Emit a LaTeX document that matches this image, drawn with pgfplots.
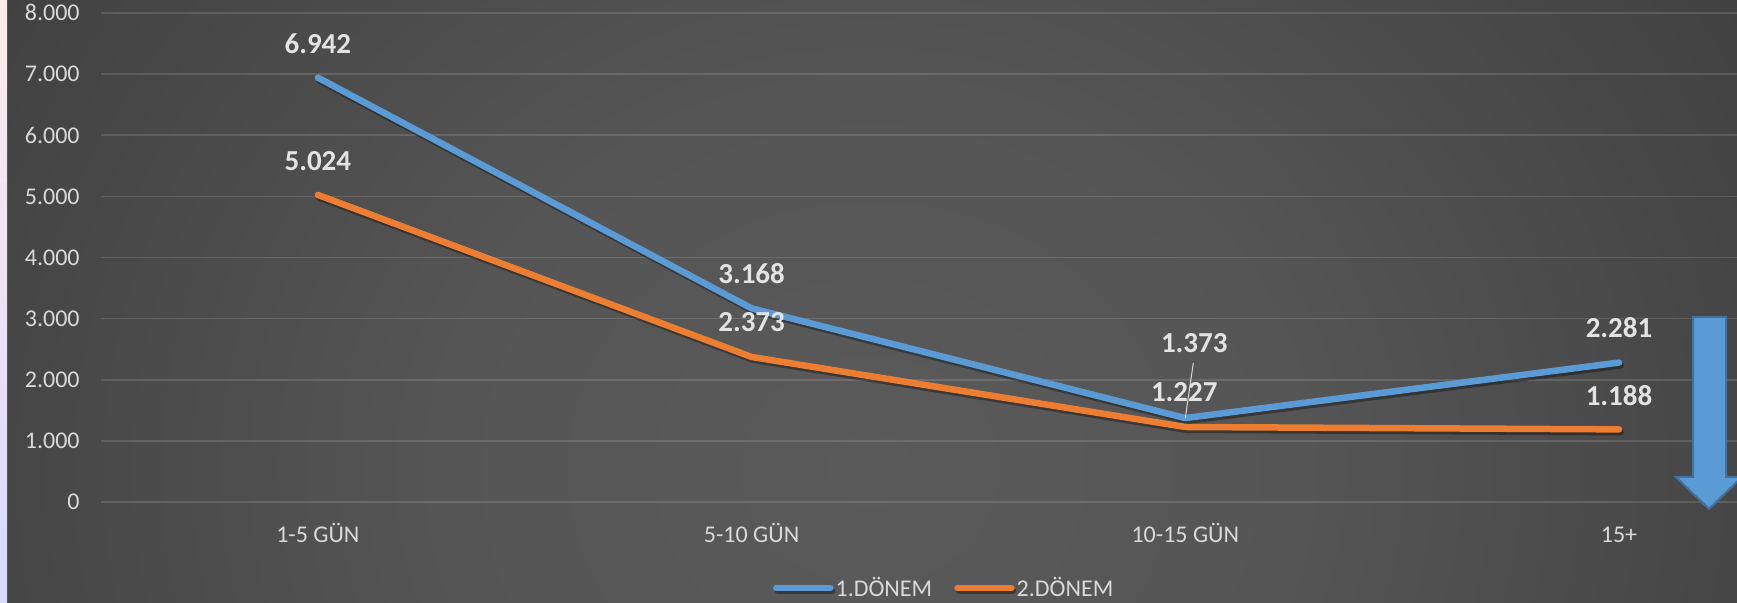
\documentclass[border=0pt]{standalone}
\usepackage{fontspec}
\setmainfont{Carlito}
\usepackage{pgfplots}
\usepackage{pgfplotstable}
\pgfplotsset{compat=1.18}

\definecolor{ser1}{HTML}{5B9BD5}
\definecolor{ser2}{HTML}{ED7D31}
\definecolor{txt}{HTML}{D9D9D9}
\definecolor{lbl}{HTML}{E3E3E3}
\definecolor{arrowline}{HTML}{41719C}
\definecolor{bg0}{HTML}{5A5A5A}
\definecolor{bg1}{HTML}{555555}
\definecolor{bg2}{HTML}{404040}
\definecolor{bg3}{HTML}{2C2C2C}
\definecolor{bg4}{HTML}{262626}

\pgfdeclareradialshading{bgshade}{\pgfpoint{0bp}{0bp}}{color(0bp)=(bg0); color(12bp)=(bg1); color(29bp)=(bg2); color(43bp)=(bg3); color(60bp)=(bg4)}

\pgfdeclareplotmark{leader}{%
  \pgfpathmoveto{\pgfpoint{0pt}{0pt}}%
  \pgfpathlineto{\pgfpoint{4pt}{27.5pt}}%
  \pgfusepathqstroke}

% x y dx dy (label offsets in pt)
\pgfplotstableread{
x y dx dy
0 6942 0 12.2
1 3168 0 12.2
2 1373 4.5 33
3 2281 0 12.5
}\donemone
\pgfplotstableread{
x y dx dy
0 5024 0 12.4
1 2373 0 12.5
2 1227 -0.5 12.5
3 1188 0 11.7
}\donemtwo

\pgfplotsset{
  series/.style={line width=3.25pt, line join=round, line cap=round,
    preaction={draw=black, draw opacity=0.35, transform canvas={xshift=0.8pt, yshift=-1.4pt}},
    nodes near coords,
    visualization depends on={\thisrow{dx}\as\dx},
    visualization depends on={\thisrow{dy}\as\dy},
    every node near coord/.append style={anchor=base, inner sep=0pt,
      xshift=\dx pt, yshift=\dy pt, text=lbl,
      font=\fontsize{14.5pt}{17pt}\selectfont\bfseries}},
}

\begin{document}
\begin{tikzpicture}
% background
\begin{scope}
  \clip (0,0) rectangle (868.5pt,301.5pt);
  \shade[shading=bgshade] (-15pt,-333.5pt) rectangle (885pt,466.5pt);
  \shade[top color=pink!30!white, middle color=violet!25!white, bottom color=blue!15!white] (0,0) rectangle (3.5pt,301.5pt);
\end{scope}

\begin{axis}[
  at={(50.5pt,50.5pt)}, anchor=south west,
  scale only axis, width=818pt, height=244.5pt,
  xmin=-0.5, xmax=3.272, ymin=0, ymax=8000,
  clip=false,
  axis line style={draw=none},
  tick style={draw=none}, major tick length=0pt,
  ymajorgrids, grid style={white, opacity=0.13, line width=0.8pt},
  ytick={0,1000,...,8000},
  scaled y ticks=false,
  /pgf/number format/.cd, 1000 sep={.}, assume math mode=true, /pgfplots/.cd,
  xtick={0,1,2,3},
  xticklabels={1-5 GÜN, 5-10 GÜN, 10-15 GÜN, 15+},
  ticklabel style={text=txt, font=\fontsize{12pt}{14pt}\selectfont},
  xticklabel style={anchor=base, yshift=-20.5pt},
  yticklabel style={anchor=base east, inner sep=0pt, xshift=-10.5pt, yshift=-3.9pt},
  legend columns=2,
  legend style={at={(0.5154,-0.176)}, anchor=center, draw=none, fill=none,
    text=txt, font=\fontsize{12pt}{14pt}\selectfont,
    nodes={inner xsep=1pt},
    /tikz/every even column/.append style={column sep=10pt}},
  legend image code/.code={\draw[#1, line cap=round] (0pt,0pt) -- (27pt,0pt);},
]
\addplot[ser1, series] table[x=x, y=y] {\donemone};
\addlegendentry{1.DÖNEM}
\addplot[ser2, series] table[x=x, y=y] {\donemtwo};
\addlegendentry{2.DÖNEM}
\addplot[only marks, mark=leader, mark options={draw=txt, line width=0.5pt}, forget plot] coordinates {(2,1373)};
\end{axis}

% arrow
\filldraw[fill=ser1, draw=arrowline, line width=1pt, line join=miter]
  (846.5pt,143pt) -- (863pt,143pt) -- (863pt,63pt) -- (871pt,63pt) -- (854.5pt,47pt)
  -- (838pt,63pt) -- (846.5pt,63pt) -- cycle;

\pgfresetboundingbox
\path[use as bounding box] (0,0) rectangle (868.5pt,301.5pt);
\end{tikzpicture}
\end{document}
